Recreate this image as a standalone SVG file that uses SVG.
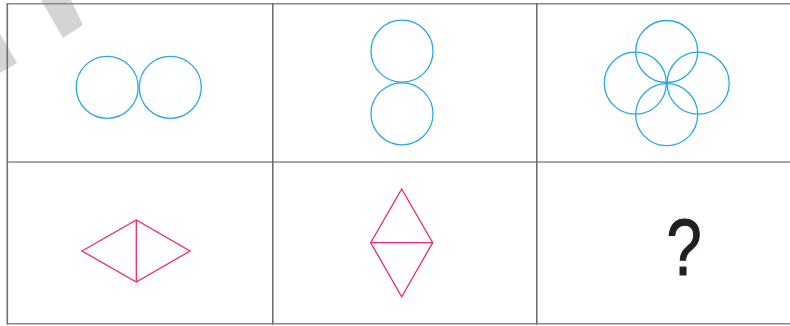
<svg xmlns="http://www.w3.org/2000/svg" width="790" height="326" viewBox="0 0 790 326">
<style>
.grid{stroke:#6f6f72;stroke-width:1.6;fill:none}
.hgrid{stroke:#8a8a8c;stroke-width:1.6;fill:none}
.blue{fill:none;stroke:#2aa9e0;stroke-width:1.3}
.pink{fill:none;stroke:#e8287a;stroke-width:1.3;stroke-linejoin:miter}
.wm{fill:#d4d4d4}
</style>
<rect width="790" height="326" fill="#fff"/>
<g id="watermark">
<polygon class="wm" points="41,0 71,0 83,25 63,38 48,12"/>
<polygon class="wm" points="0,34 17,63 0,73"/>
</g>
<g id="grid">
<line class="hgrid" x1="7" y1="3.8" x2="790" y2="3.8"/>
<line class="hgrid" x1="7" y1="162" x2="790" y2="162"/>
<line class="hgrid" x1="7" y1="323.8" x2="790" y2="323.8"/>
<line class="grid" x1="7.3" y1="3" x2="7.3" y2="324.5"/>
<line class="grid" x1="272.8" y1="3" x2="272.8" y2="324.5"/>
<line class="grid" x1="536.8" y1="3" x2="536.8" y2="324.5"/>
</g>
<g id="cell1">
<circle class="blue" cx="107.2" cy="87.3" r="31"/>
<circle class="blue" cx="170.3" cy="87.3" r="31"/>
</g>
<g id="cell2">
<circle class="blue" cx="402" cy="51.2" r="31"/>
<circle class="blue" cx="402" cy="113.8" r="31"/>
</g>
<g id="cell3">
<circle class="blue" cx="666.7" cy="51.5" r="31"/>
<circle class="blue" cx="635.3" cy="83.2" r="31"/>
<circle class="blue" cx="698.2" cy="83.2" r="31"/>
<circle class="blue" cx="666.7" cy="114.7" r="31"/>
</g>
<g id="cell4">
<polygon class="pink" points="82,251 136.3,220 190,251 136.3,282"/>
<line class="pink" x1="136.3" y1="220" x2="136.3" y2="282" stroke-width="1.6"/>
</g>
<g id="cell5">
<polygon class="pink" points="401.7,189 432.7,242.7 401.7,296.7 370.7,242.7"/>
<line class="pink" x1="370.7" y1="242.7" x2="432.7" y2="242.7" stroke-width="1.6"/>
</g>
<g id="cell6">
<text transform="translate(684,274.5) scale(0.8,1)" x="0" y="0" text-anchor="middle" font-family="Liberation Sans, Arial, sans-serif" font-size="79" fill="#231f20" stroke="#231f20" stroke-width="1.2" stroke-linejoin="round">?</text>
</g>
</svg>
